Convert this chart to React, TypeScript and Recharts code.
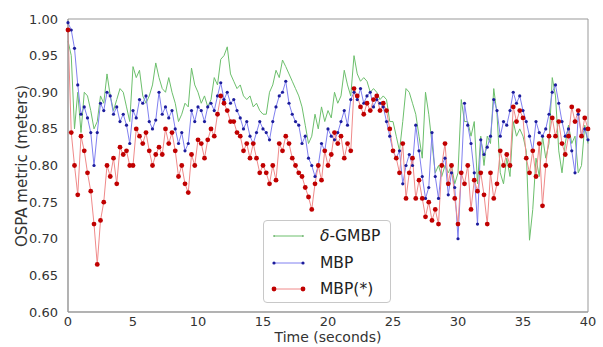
import React from 'react'
import {
  LineChart,
  Line,
  XAxis,
  YAxis,
  Legend,
  ReferenceArea,
} from 'recharts'

// sample times, every 0.25 s from 0 to 40
const times = Array.from({ length: 161 }, (_, i) => i * 0.25)

const gmbp = [
  0.97, 0.95, 0.85, 0.9, 0.845, 0.9, 0.895, 0.875, 0.85, 0.86, 0.895, 0.885, 0.925, 0.895, 0.875, 0.89, 0.905, 0.9, 0.88, 0.86,
  0.935, 0.92, 0.93, 0.895, 0.885, 0.895, 0.91, 0.94, 0.92, 0.905, 0.9, 0.92, 0.9, 0.885, 0.86, 0.87, 0.885, 0.88, 0.933, 0.91,
  0.9, 0.885, 0.895, 0.88, 0.89, 0.92, 0.91, 0.945, 0.95, 0.962, 0.925, 0.915, 0.905, 0.91, 0.895, 0.89, 0.895, 0.88, 0.885, 0.875,
  0.87, 0.87, 0.9, 0.91, 0.93, 0.92, 0.944, 0.935, 0.925, 0.915, 0.905, 0.895, 0.88, 0.855, 0.83, 0.84, 0.87, 0.85, 0.88, 0.86,
  0.875, 0.865, 0.9, 0.885, 0.895, 0.93, 0.91, 0.895, 0.95, 0.925, 0.915, 0.92, 0.915, 0.9, 0.905, 0.9, 0.89, 0.895, 0.89, 0.86,
  0.86, 0.84, 0.82, 0.86, 0.905, 0.9, 0.885, 0.87, 0.84, 0.81, 0.9, 0.87, 0.83, 0.79, 0.8, 0.785, 0.8, 0.79, 0.8, 0.775,
  0.79, 0.89, 0.86, 0.86, 0.84, 0.86, 0.775, 0.84, 0.8, 0.84, 0.83, 0.905, 0.87, 0.79, 0.775, 0.81, 0.785, 0.86, 0.84, 0.85,
  0.84, 0.82, 0.698, 0.74, 0.81, 0.785, 0.84, 0.81, 0.83, 0.92, 0.895, 0.82, 0.79, 0.83, 0.855, 0.83, 0.84, 0.79, 0.8, 0.855,
  0.83,
]

const mbp = [
  0.995, 0.985, 0.96, 0.91, 0.87, 0.88, 0.865, 0.845, 0.8, 0.845, 0.885, 0.875, 0.9, 0.895, 0.87, 0.88, 0.86, 0.87, 0.855, 0.83,
  0.875, 0.865, 0.89, 0.885, 0.895, 0.86, 0.85, 0.862, 0.9, 0.87, 0.88, 0.865, 0.875, 0.85, 0.83, 0.845, 0.82, 0.83, 0.875, 0.86,
  0.88, 0.875, 0.86, 0.88, 0.885, 0.875, 0.895, 0.913, 0.89, 0.9, 0.885, 0.89, 0.875, 0.865, 0.85, 0.86, 0.84, 0.83, 0.845, 0.86,
  0.85, 0.845, 0.835, 0.86, 0.88, 0.895, 0.9, 0.915, 0.885, 0.87, 0.86, 0.855, 0.83, 0.84, 0.81, 0.8, 0.785, 0.8, 0.83, 0.82,
  0.85, 0.84, 0.835, 0.845, 0.86, 0.875, 0.855, 0.89, 0.9, 0.89, 0.905, 0.885, 0.895, 0.9, 0.88, 0.89, 0.885, 0.88, 0.86, 0.84,
  0.82, 0.81, 0.82, 0.775, 0.8, 0.815, 0.8, 0.855, 0.82, 0.785, 0.755, 0.77, 0.845, 0.785, 0.755, 0.8, 0.81, 0.76, 0.79, 0.77,
  0.7, 0.79, 0.885, 0.855, 0.83, 0.79, 0.72, 0.835, 0.815, 0.825, 0.84, 0.89, 0.875, 0.84, 0.86, 0.855, 0.875, 0.9, 0.885, 0.895,
  0.875, 0.86, 0.84, 0.82, 0.86, 0.845, 0.84, 0.85, 0.87, 0.9, 0.91, 0.885, 0.86, 0.84, 0.85, 0.82, 0.79, 0.87, 0.84, 0.85,
  0.835,
]

const mbpStar = [
  0.985, 0.845, 0.8, 0.76, 0.84, 0.82, 0.79, 0.765, 0.72, 0.665, 0.725, 0.75, 0.8, 0.785, 0.81, 0.775, 0.825, 0.815, 0.82, 0.8,
  0.8, 0.85, 0.84, 0.83, 0.845, 0.82, 0.8, 0.815, 0.825, 0.815, 0.85, 0.83, 0.845, 0.82, 0.785, 0.8, 0.775, 0.763, 0.815, 0.8,
  0.835, 0.83, 0.81, 0.835, 0.85, 0.84, 0.87, 0.895, 0.885, 0.875, 0.86, 0.86, 0.845, 0.84, 0.82, 0.83, 0.81, 0.83, 0.81, 0.79,
  0.8, 0.79, 0.775, 0.8, 0.78, 0.83, 0.82, 0.84, 0.83, 0.81, 0.8, 0.79, 0.785, 0.77, 0.757, 0.74, 0.775, 0.8, 0.78, 0.82,
  0.8, 0.815, 0.845, 0.83, 0.84, 0.81, 0.83, 0.82, 0.905, 0.895, 0.88, 0.87, 0.885, 0.875, 0.89, 0.895, 0.875, 0.885, 0.875, 0.85,
  0.82, 0.81, 0.79, 0.83, 0.755, 0.79, 0.81, 0.755, 0.78, 0.755, 0.73, 0.75, 0.725, 0.74, 0.72, 0.8, 0.83, 0.775, 0.8, 0.755,
  0.72, 0.79, 0.775, 0.8, 0.74, 0.78, 0.765, 0.79, 0.76, 0.72, 0.79, 0.755, 0.775, 0.82, 0.8, 0.815, 0.8, 0.88, 0.86, 0.875,
  0.865, 0.81, 0.79, 0.82, 0.785, 0.83, 0.745, 0.8, 0.84, 0.865, 0.84, 0.86, 0.83, 0.815, 0.84, 0.88, 0.86, 0.875, 0.84, 0.865,
  0.85,
]

const xTicks = [0, 5, 10, 15, 20, 25, 30, 35, 40]
const yTicks = [0.6, 0.65, 0.7, 0.75, 0.8, 0.85, 0.9, 0.95, 1.0]

const rows = times.map((t, i) => ({
  t,
  gmbp: gmbp[i],
  mbp: mbp[i],
  mbpStar: mbpStar[i],
}))

const FONT = '"DejaVu Sans", sans-serif'

const legendItems = [
  { label: 'GMBP', delta: true, line: '#6cbf6c', dot: '#3f9a3f', r: 0.8 },
  { label: 'MBP', delta: false, line: '#8080f0', dot: '#1c1c9c', r: 1.6 },
  { label: 'MBP(*)', delta: false, line: '#f08a8a', dot: '#c00000', r: 2.4 },
]

const renderLegend = () => (
  <div
    style={{
      width: 128,
      height: 83,
      background: '#fff',
      border: '1px solid #c8c8c8',
      borderRadius: 4,
      boxSizing: 'border-box',
      fontFamily: FONT,
      fontSize: 15.5,
      color: '#222',
      paddingTop: 2,
    }}
  >
    {legendItems.map((it) => (
      <div
        key={it.label}
        style={{ display: 'flex', alignItems: 'center', height: 26.5 }}
      >
        <svg width={56} height={10} style={{ flexShrink: 0 }}>
          <line x1={10} x2={39} y1={5} y2={5} stroke={it.line} strokeWidth={1} />
          <circle cx={10} cy={5} r={it.r} fill={it.dot} />
          <circle cx={39} cy={5} r={it.r} fill={it.dot} />
        </svg>
        <span>
          {it.delta && <i>δ</i>}
          {it.delta ? '-' : ''}
          {it.label}
        </span>
      </div>
    ))}
  </div>
)

const xLabel = () => (
  <text
    x={328}
    y={342}
    textAnchor="middle"
    fontSize={14}
    fill="#333"
    fontFamily={FONT}
  >
    Time (seconds)
  </text>
)

const yLabel = () => (
  <text
    x={0}
    y={0}
    transform="translate(27 166) rotate(-90)"
    textAnchor="middle"
    fontSize={15}
    fill="#333"
    fontFamily={FONT}
  >
    OSPA metric (meters)
  </text>
)

export default function App() {
  return (
    <div style={{ position: 'absolute', left: 0, top: 0, background: '#fff' }}>
      <LineChart
        width={603}
        height={347}
        data={rows}
        margin={{ top: 19, right: 15, bottom: 0, left: 0 }}
      >
        <XAxis
          dataKey="t"
          type="number"
          domain={[0, 40]}
          ticks={xTicks}
          height={35}
          axisLine={{ stroke: '#999' }}
          tickLine={false}
          tickSize={5}
          tickMargin={0}
          tick={{ fontSize: 13, fill: '#333', fontFamily: FONT }}
          label={{ content: xLabel }}
        />
        <YAxis
          type="number"
          domain={[0.6, 1.0]}
          ticks={yTicks}
          width={68}
          allowDataOverflow
          axisLine={{ stroke: '#999' }}
          tickLine={false}
          tickMargin={4}
          tickFormatter={(v: number) => v.toFixed(2)}
          tick={{ fontSize: 13, fill: '#333', fontFamily: FONT }}
          label={{ content: yLabel }}
        />
        <ReferenceArea
          x1={0}
          x2={40}
          y1={0.6}
          y2={1.0}
          fill="none"
          stroke="#999"
          strokeWidth={1}
        />
        <Line
          dataKey="gmbp"
          stroke="#6cbf6c"
          strokeWidth={1}
          dot={false}
          type="linear"
          isAnimationActive={false}
        />
        <Line
          dataKey="mbp"
          stroke="#8080f0"
          strokeWidth={1}
          dot={{ r: 1.6, fill: '#1c1c9c', stroke: 'none' }}
          type="linear"
          isAnimationActive={false}
        />
        <Line
          dataKey="mbpStar"
          stroke="#f08a8a"
          strokeWidth={1}
          dot={{ r: 2.4, fill: '#c00000', stroke: 'none' }}
          type="linear"
          isAnimationActive={false}
        />
        <Legend
          layout="vertical"
          align="center"
          verticalAlign="middle"
          content={renderLegend}
          wrapperStyle={{ left: 263, top: 220, width: 128, height: 83 }}
        />
      </LineChart>
    </div>
  )
}
